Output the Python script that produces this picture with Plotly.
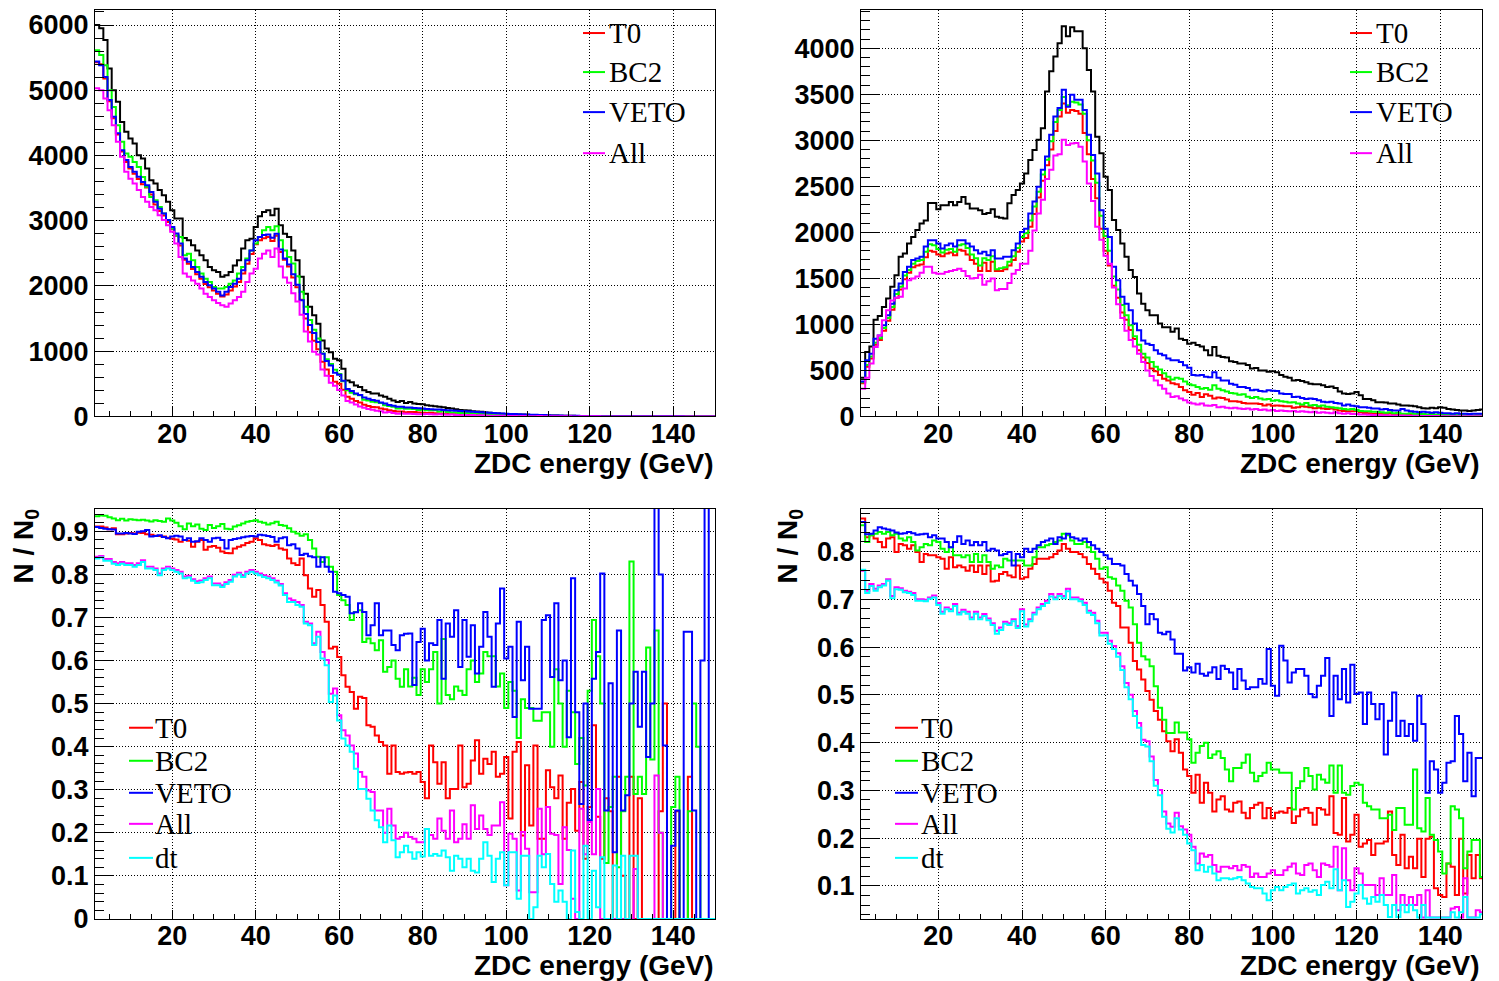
import numpy as np
import plotly.graph_objects as go

# ZDC energy histograms, 1 GeV bins, the axis starts at 1.5 GeV
BIN_EDGES = np.arange(1.5, 151.0, 1.0)  # 150 edges -> 149 bins

# ---------------- top left: counts ----------------
TL_NOCUT = [6000, 5950, 5770, 5335, 5000, 4825, 4515, 4365, 4260, 4185,
            4005, 3955, 3800, 3620, 3570, 3470, 3390, 3290, 3160, 3035,
            3035, 2735, 2700, 2625, 2545, 2470, 2395, 2290, 2240, 2215,
            2140, 2165, 2215, 2315, 2395, 2575, 2700, 2725, 2905, 3070,
            3135, 3160, 3085, 3185, 2930, 2800, 2750, 2545, 2395, 2140,
            1880, 1680, 1550, 1420, 1165, 1040, 985, 885, 860, 730,
            550, 525, 475, 450, 400, 375, 350, 350, 320, 300,
            270, 245, 220, 235, 205, 220, 200, 190, 185, 170,
            165, 155, 150, 140, 130, 120, 110, 100, 95, 90,
            80, 75, 70, 60, 55, 50, 45, 40, 38, 35,
            32, 30, 28, 25, 22, 20, 18, 17, 15, 14,
            13, 12, 11, 10, 9, 8, 8, 7, 6, 6,
            5, 5, 4, 4, 3, 3, 3, 2, 2, 2,
            2, 1, 1, 1, 1, 1, 1, 1, 1, 1,
            1, 0, 0, 0, 0, 0, 0, 0, 0]
TL_T0 = [5430, 5400, 5180, 4830, 4570, 4320, 4060, 3900, 3800, 3720,
         3640, 3560, 3510, 3400, 3250, 3150, 3080, 2980, 2870, 2770,
         2620, 2400, 2340, 2260, 2180, 2110, 2030, 1980, 1930, 1880,
         1840, 1870, 1930, 1990, 2060, 2190, 2340, 2490, 2640, 2700,
         2730, 2750, 2690, 2770, 2520, 2400, 2300, 2130, 1980, 1790,
         1500, 1290, 1160, 1030, 840, 720, 620, 530, 500, 410,
         300, 270, 235, 215, 180, 160, 145, 140, 120, 110,
         95, 85, 75, 75, 65, 68, 66, 62, 58, 52,
         55, 50, 45, 42, 38, 37, 34, 32, 33, 28,
         28, 30, 27, 24, 24, 22, 21, 20, 19, 18,
         16, 15, 12, 14, 11, 12, 9, 8, 10, 8,
         7, 6, 6, 5, 4, 4, 4, 3, 3, 3,
         2, 2, 2, 2, 1, 1, 1, 1, 1, 1,
         1, 1, 0, 0, 0, 0, 0, 0, 0, 0,
         0, 0, 0, 0, 0, 0, 0, 0, 0]
TL_BC2 = [5615, 5540, 5385, 5000, 4745, 4465, 4210, 4030, 3980, 3900,
          3825, 3670, 3520, 3365, 3315, 3210, 3110, 3010, 2880, 2775,
          2750, 2470, 2495, 2395, 2290, 2190, 2110, 2060, 1985, 1960,
          1960, 1985, 2035, 2085, 2190, 2290, 2420, 2545, 2650, 2750,
          2855, 2905, 2855, 2915, 2700, 2545, 2445, 2345, 2150, 1910,
          1680, 1480, 1330, 1195, 965, 875, 805, 715, 650, 540,
          400, 364, 339, 323, 257, 244, 224, 218, 207, 172,
          158, 147, 123, 127, 119, 119, 112, 99, 107, 94,
          96, 96, 75, 91, 68, 61, 59, 53, 49, 52,
          48, 41, 40, 37, 34, 31, 24, 23, 19, 19,
          17, 13, 14, 12, 11, 9, 8, 8, 7, 6,
          8, 6, 4, 5, 4, 3, 3, 2, 3, 4,
          3, 2, 1, 1, 1, 0, 1, 1, 2, 1,
          1, 0, 1, 0, 1, 0, 0, 0, 0, 0,
          0, 0, 0, 0, 0, 0, 0, 0, 0]
TL_VETO = [5440, 5385, 5205, 4850, 4595, 4340, 4080, 3930, 3825, 3750,
           3675, 3595, 3545, 3440, 3290, 3185, 3110, 3010, 2905, 2805,
           2650, 2420, 2370, 2290, 2215, 2140, 2060, 2010, 1960, 1910,
           1855, 1910, 1985, 2035, 2110, 2240, 2395, 2545, 2700, 2750,
           2780, 2790, 2740, 2800, 2560, 2420, 2330, 2180, 2020, 1780,
           1570, 1400, 1280, 1140, 960, 850, 780, 670, 640, 545,
           420, 390, 350, 330, 290, 270, 250, 240, 215, 200,
           175, 165, 150, 150, 135, 135, 130, 125, 120, 115,
           110, 108, 105, 100, 95, 92, 88, 84, 80, 76,
           72, 68, 64, 60, 56, 52, 48, 45, 42, 39,
           36, 33, 30, 28, 26, 24, 22, 20, 18, 16,
           15, 13, 12, 11, 10, 9, 8, 7, 6, 6,
           5, 4, 4, 3, 3, 2, 2, 2, 2, 1,
           1, 1, 1, 1, 1, 1, 1, 1, 1, 1,
           1, 0, 0, 0, 0, 0, 0, 0, 0]
TL_ALL = [5030, 5000, 4875, 4695, 4465, 4210, 3980, 3750, 3645, 3570,
          3470, 3365, 3290, 3210, 3160, 3085, 3010, 2930, 2830, 2650,
          2445, 2190, 2140, 2085, 2035, 1960, 1880, 1830, 1780, 1740,
          1705, 1680, 1730, 1780, 1830, 1910, 2060, 2190, 2265, 2420,
          2495, 2545, 2445, 2575, 2300, 2130, 2050, 1890, 1760, 1560,
          1300, 1150, 990, 950, 720, 625, 515, 470, 405, 320,
          235, 212, 182, 153, 132, 112, 103, 88, 81, 60,
          69, 53, 41, 45, 41, 42, 37, 34, 33, 36,
          32, 29, 35, 29, 24, 30, 20, 19, 21, 17,
          21, 16, 17, 13, 11, 11, 10, 11, 3, 7,
          6, 2, 6, 4, 2, 1, 5, 3, 4, 3,
          3, 1, 2, 2, 0, 0, 2, 1, 1, 1,
          2, 0, 0, 0, 0, 0, 0, 0, 0, 0,
          0, 0, 0, 0, 0, 0, 0, 0, 0, 0,
          0, 0, 0, 0, 0, 0, 0, 0, 0]

# ---------------- top right: counts ----------------
TR_NOCUT = [420, 700, 760, 1050, 1090, 1190, 1280, 1410, 1535, 1735,
            1770, 1880, 1950, 2025, 2095, 2130, 2320, 2320, 2250, 2295,
            2295, 2330, 2295, 2330, 2385, 2310, 2260, 2260, 2240, 2200,
            2210, 2250, 2170, 2160, 2150, 2315, 2405, 2460, 2530, 2640,
            2785, 2895, 3005, 3130, 3530, 3750, 3910, 4055, 4240, 4130,
            4230, 4185, 4185, 4000, 3765, 3530, 3040, 2860, 2605, 2460,
            2135, 2025, 1880, 1735, 1590, 1515, 1335, 1225, 1155, 1100,
            1100, 1010, 970, 970, 920, 955, 845, 830, 790, 800,
            775, 760, 720, 665, 755, 660, 645, 640, 600, 590,
            575, 575, 560, 520, 525, 500, 500, 485, 490, 480,
            450, 430, 420, 390, 395, 385, 370, 355, 350, 350,
            340, 320, 325, 310, 270, 250, 245, 250, 265, 230,
            190, 190, 175, 155, 155, 150, 140, 140, 130, 120,
            120, 115, 110, 100, 90, 85, 95, 90, 100, 95,
            80, 75, 70, 65, 65, 60, 65, 70, 75]
TR_T0 = [360, 540, 630, 780, 830, 930, 1040, 1160, 1290, 1380,
         1490, 1560, 1620, 1640, 1650, 1730, 1800, 1790, 1760, 1740,
         1770, 1780, 1750, 1810, 1800, 1760, 1700, 1660, 1580, 1670,
         1580, 1680, 1580, 1580, 1600, 1640, 1700, 1790, 1900, 1940,
         2060, 2200, 2380, 2560, 2730, 2900, 3100, 3260, 3400, 3300,
         3330, 3320, 3290, 3080, 2850, 2580, 2370, 2040, 1800, 1640,
         1420, 1290, 1130, 1050, 940, 840, 720, 640, 580, 520,
         490, 450, 410, 390, 360, 350, 320, 285, 265, 235,
         255, 210, 240, 225, 195, 205, 200, 185, 165, 165,
         160, 145, 140, 140, 140, 135, 120, 130, 115, 120,
         115, 110, 110, 95, 100, 110, 105, 100, 90, 95,
         85, 80, 85, 75, 65, 60, 55, 55, 60, 45,
         36, 35, 30, 30, 28, 27, 33, 22, 18, 24,
         16, 18, 14, 18, 11, 16, 17, 8, 7, 7,
         12, 11, 6, 13, 6, 10, 8, 12, 9]
TR_BC2 = [370, 560, 650, 800, 850, 960, 1070, 1190, 1330, 1410,
          1530, 1590, 1660, 1690, 1700, 1790, 1870, 1860, 1820, 1780,
          1810, 1820, 1790, 1860, 1870, 1830, 1760, 1720, 1640, 1720,
          1700, 1740, 1600, 1610, 1620, 1680, 1740, 1830, 1950, 1990,
          2130, 2280, 2440, 2630, 2790, 2990, 3200, 3330, 3470, 3380,
          3420, 3410, 3390, 3290, 3000, 2780, 2540, 2180, 1960, 1800,
          1520, 1380, 1210, 1100, 990, 870, 780, 680, 640, 590,
          540, 510, 470, 430, 400, 420, 410, 380, 350, 340,
          320, 300, 310, 290, 340, 300, 285, 270, 255, 250,
          235, 240, 215, 200, 210, 195, 185, 190, 170, 175,
          165, 160, 150, 155, 140, 130, 145, 120, 125, 110,
          120, 105, 100, 95, 90, 80, 75, 80, 70, 60,
          55, 55, 50, 50, 45, 40, 45, 35, 40, 30,
          30, 35, 25, 30, 25, 20, 25, 20, 15, 20,
          15, 15, 15, 10, 15, 10, 10, 10, 10]
TR_VETO = [380, 610, 680, 845, 880, 990, 1100, 1225, 1370, 1445,
           1570, 1625, 1700, 1715, 1735, 1845, 1915, 1915, 1880, 1825,
           1860, 1880, 1845, 1915, 1915, 1880, 1845, 1805, 1770, 1790,
           1750, 1805, 1715, 1715, 1735, 1735, 1805, 1880, 2005, 2040,
           2205, 2335, 2495, 2680, 2825, 3060, 3260, 3350, 3550, 3365,
           3495, 3440, 3440, 3330, 3060, 2840, 2640, 2240, 2040, 1950,
           1625, 1480, 1300, 1225, 1155, 1010, 935, 825, 790, 775,
           720, 680, 665, 630, 610, 610, 590, 555, 530, 450,
           445, 450, 430, 425, 480, 420, 390, 390, 355, 345,
           320, 320, 310, 285, 290, 275, 270, 285, 280, 275,
           250, 245, 245, 210, 215, 200, 190, 195, 190, 175,
           160, 155, 160, 145, 140, 120, 130, 115, 110, 100,
           100, 95, 85, 85, 75, 80, 70, 65, 65, 80,
           65, 55, 50, 45, 50, 45, 40, 45, 40, 35,
           35, 30, 35, 30, 30, 25, 30, 30, 30]
TR_ALL = [300, 420, 575, 755, 880, 1045, 1155, 1260, 1290, 1300,
          1390, 1480, 1500, 1520, 1560, 1625, 1625, 1560, 1550, 1550,
          1570, 1580, 1590, 1605, 1580, 1525, 1500, 1505, 1540, 1430,
          1470, 1500, 1370, 1385, 1385, 1450, 1550, 1590, 1660, 1660,
          1800, 2020, 2205, 2355, 2580, 2680, 2835, 2850, 3005, 2950,
          2965, 2970, 2930, 2770, 2530, 2340, 2060, 1920, 1745, 1660,
          1400, 1220, 1070, 930, 830, 760, 680, 590, 500, 440,
          390, 340, 300, 250, 210, 220, 195, 175, 150, 140,
          130, 140, 120, 115, 125, 100, 105, 95, 90, 95,
          85, 80, 85, 75, 80, 70, 75, 65, 70, 60,
          65, 60, 55, 60, 50, 55, 50, 45, 50, 40,
          45, 40, 35, 45, 35, 30, 35, 25, 25, 20,
          20, 18, 15, 15, 12, 12, 10, 10, 8, 10,
          8, 6, 6, 5, 5, 4, 4, 4, 3, 3,
          3, 2, 2, 2, 2, 2, 1, 1, 1]

# ---------------- bottom left: N / N0 ----------------
BL_T0 = [0.911, 0.911, 0.909, 0.905, 0.907, 0.893, 0.893, 0.895, 0.896, 0.895,
         0.897, 0.896, 0.893, 0.892, 0.890, 0.889, 0.888, 0.885, 0.883, 0.881,
         0.876, 0.880, 0.878, 0.864, 0.876, 0.880, 0.857, 0.864, 0.866, 0.862,
         0.853, 0.850, 0.849, 0.860, 0.864, 0.868, 0.873, 0.876, 0.884, 0.880,
         0.870, 0.868, 0.866, 0.869, 0.860, 0.857, 0.837, 0.826, 0.822, 0.837,
         0.798, 0.767, 0.748, 0.764, 0.729, 0.690, 0.628, 0.632, 0.608, 0.566,
         0.539, 0.527, 0.488, 0.516, 0.513, 0.450, 0.446, 0.426, 0.411, 0.403,
         0.337, 0.403, 0.341, 0.337, 0.340, 0.341, 0.337, 0.341, 0.318, 0.280,
         0.403, 0.364, 0.314, 0.364, 0.280, 0.302, 0.302, 0.403, 0.306, 0.314,
         0.368, 0.415, 0.337, 0.372, 0.360, 0.388, 0.330, 0.337, 0.376, 0.233,
         0.388, 0.411, 0.194, 0.357, 0.217, 0.403, 0.186, 0.186, 0.345, 0.306,
         0.280, 0.333, 0.186, 0.270, 0.302, 0.205, 0.318, 0.140, 0.260, 0.450,
         0.237, 0.140, 0.280, 0.250, 0.0, 0.330, 0.100, 0.0, 0.330, 0.0,
         0.280, 0.0, 0.0, 0.0, 0.0, 0.250, 0.500, 0.0, 0.0, 0.250,
         0.0, 0.0, 0.330, 0.0, 0.0, 0.0, 0.0, 0.0, 0.0]
BL_BC2 = [0.935, 0.937, 0.936, 0.933, 0.930, 0.926, 0.929, 0.925, 0.928, 0.927,
          0.926, 0.927, 0.925, 0.923, 0.926, 0.924, 0.922, 0.930, 0.925, 0.920,
          0.912, 0.905, 0.918, 0.912, 0.916, 0.906, 0.903, 0.915, 0.908, 0.912,
          0.917, 0.906, 0.905, 0.911, 0.914, 0.918, 0.922, 0.924, 0.926, 0.922,
          0.920, 0.916, 0.919, 0.922, 0.915, 0.913, 0.907, 0.899, 0.895, 0.890,
          0.893, 0.880, 0.860, 0.841, 0.829, 0.840, 0.818, 0.806, 0.752, 0.740,
          0.729, 0.694, 0.713, 0.717, 0.643, 0.651, 0.640, 0.624, 0.647, 0.574,
          0.585, 0.600, 0.558, 0.539, 0.580, 0.540, 0.560, 0.520, 0.580, 0.550,
          0.580, 0.620, 0.500, 0.650, 0.520, 0.510, 0.540, 0.530, 0.520, 0.580,
          0.600, 0.550, 0.570, 0.620, 0.610, 0.610, 0.540, 0.570, 0.490, 0.550,
          0.530, 0.420, 0.510, 0.490, 0.490, 0.460, 0.460, 0.480, 0.480, 0.400,
          0.580, 0.500, 0.400, 0.530, 0.480, 0.360, 0.420, 0.310, 0.530, 0.694,
          0.610, 0.500, 0.130, 0.260, 0.330, 0.120, 0.250, 0.330, 0.830, 0.290,
          0.330, 0.290, 0.630, 0.370, 0.670, 0.200, 0.0, 0.0, 0.260, 0.330,
          0.0, 0.0, 0.250, 0.500, 0.400, 0.0, 0.0, 0.0, 0.0]
BL_VETO = [0.910, 0.908, 0.906, 0.905, 0.904, 0.895, 0.895, 0.896, 0.895, 0.894,
           0.899, 0.900, 0.903, 0.888, 0.889, 0.891, 0.887, 0.884, 0.888, 0.890,
           0.888, 0.880, 0.884, 0.876, 0.877, 0.884, 0.880, 0.876, 0.884, 0.885,
           0.880, 0.860, 0.880, 0.882, 0.884, 0.886, 0.888, 0.889, 0.888, 0.892,
           0.891, 0.889, 0.887, 0.876, 0.884, 0.886, 0.868, 0.870, 0.860, 0.845,
           0.848, 0.842, 0.840, 0.818, 0.840, 0.818, 0.806, 0.760, 0.756, 0.752,
           0.748, 0.710, 0.712, 0.733, 0.713, 0.659, 0.682, 0.733, 0.659, 0.670,
           0.670, 0.636, 0.624, 0.659, 0.662, 0.663, 0.543, 0.643, 0.674, 0.600,
           0.640, 0.636, 0.694, 0.558, 0.686, 0.655, 0.717, 0.585, 0.694, 0.609,
           0.682, 0.570, 0.632, 0.713, 0.655, 0.539, 0.686, 0.767, 0.605, 0.632,
           0.469, 0.690, 0.554, 0.632, 0.488, 0.488, 0.488, 0.694, 0.705, 0.562,
           0.733, 0.554, 0.600, 0.422, 0.791, 0.480, 0.267, 0.500, 0.229, 0.558,
           0.620, 0.802, 0.252, 0.547, 0.155, 0.670, 0.252, 0.287, 0.500, 0.574,
           0.446, 0.574, 0.376, 0.500, 1.200, 0.800, 0.403, 0.0, 0.170, 0.252,
           0.0, 0.667, 0.667, 0.252, 0.0, 0.600, 1.200, 0.0, 0.0]
BL_ALL = [0.841, 0.843, 0.836, 0.836, 0.829, 0.826, 0.829, 0.826, 0.826, 0.822,
          0.826, 0.833, 0.818, 0.818, 0.814, 0.802, 0.814, 0.818, 0.814, 0.810,
          0.806, 0.795, 0.797, 0.789, 0.784, 0.786, 0.791, 0.795, 0.779, 0.779,
          0.775, 0.782, 0.787, 0.799, 0.804, 0.798, 0.806, 0.810, 0.806, 0.802,
          0.798, 0.795, 0.791, 0.785, 0.778, 0.756, 0.744, 0.740, 0.736, 0.729,
          0.690, 0.686, 0.640, 0.667, 0.620, 0.601, 0.523, 0.535, 0.473, 0.438,
          0.426, 0.403, 0.384, 0.341, 0.330, 0.298, 0.295, 0.252, 0.252, 0.200,
          0.256, 0.217, 0.186, 0.190, 0.200, 0.190, 0.186, 0.178, 0.178, 0.209,
          0.195, 0.186, 0.233, 0.205, 0.186, 0.252, 0.178, 0.186, 0.220, 0.186,
          0.264, 0.209, 0.240, 0.209, 0.195, 0.217, 0.217, 0.271, 0.078, 0.198,
          0.186, 0.066, 0.202, 0.163, 0.062, 0.062, 0.256, 0.150, 0.260, 0.198,
          0.195, 0.081, 0.213, 0.160, 0.047, 0.0, 0.256, 0.150, 0.225, 0.150,
          0.302, 0.0, 0.0, 0.0, 0.0, 0.0, 0.0, 0.0, 0.0, 0.116,
          0.0, 0.0, 0.0, 0.0, 0.333, 0.200, 0.0, 0.0, 0.0, 0.0,
          0.0, 0.0, 0.0, 0.0, 0.0, 0.0, 0.0, 0.0, 0.0]
BL_DT = [0.837, 0.839, 0.832, 0.832, 0.825, 0.822, 0.825, 0.822, 0.822, 0.818,
         0.822, 0.829, 0.814, 0.814, 0.810, 0.798, 0.810, 0.814, 0.810, 0.806,
         0.802, 0.791, 0.793, 0.785, 0.780, 0.782, 0.787, 0.791, 0.775, 0.775,
         0.771, 0.778, 0.783, 0.795, 0.800, 0.794, 0.802, 0.806, 0.802, 0.798,
         0.794, 0.791, 0.787, 0.781, 0.774, 0.752, 0.736, 0.736, 0.729, 0.725,
         0.686, 0.682, 0.636, 0.655, 0.605, 0.589, 0.504, 0.519, 0.461, 0.419,
         0.403, 0.388, 0.349, 0.302, 0.302, 0.279, 0.252, 0.229, 0.213, 0.178,
         0.217, 0.183, 0.143, 0.155, 0.170, 0.155, 0.140, 0.155, 0.145, 0.209,
         0.147, 0.151, 0.147, 0.159, 0.143, 0.112, 0.147, 0.140, 0.120, 0.140,
         0.112, 0.108, 0.140, 0.178, 0.147, 0.086, 0.140, 0.155, 0.078, 0.155,
         0.155, 0.047, 0.147, 0.147, 0.0, 0.027, 0.147, 0.120, 0.151, 0.081,
         0.040, 0.066, 0.040, 0.0, 0.159, 0.016, 0.0, 0.170, 0.0, 0.112,
         0.027, 0.143, 0.0, 0.0, 0.124, 0.0, 0.147, 0.0, 0.147, 0.147,
         0.0, 0.0, 0.0, 0.0, 0.0, 0.0, 0.0, 0.0, 0.0, 0.0,
         0.0, 0.0, 0.0, 0.0, 0.0, 0.0, 0.0, 0.0, 0.0]

# ---------------- bottom right: N / N0 ----------------
BR_T0 = [0.869, 0.830, 0.834, 0.827, 0.820, 0.809, 0.827, 0.830, 0.799, 0.816,
         0.813, 0.806, 0.813, 0.799, 0.778, 0.795, 0.792, 0.792, 0.788, 0.785,
         0.764, 0.788, 0.767, 0.771, 0.767, 0.760, 0.771, 0.757, 0.771, 0.753,
         0.771, 0.737, 0.739, 0.753, 0.757, 0.750, 0.746, 0.771, 0.743, 0.746,
         0.764, 0.774, 0.785, 0.785, 0.785, 0.788, 0.795, 0.802, 0.816, 0.806,
         0.799, 0.799, 0.795, 0.788, 0.774, 0.764, 0.753, 0.743, 0.735, 0.718,
         0.693, 0.686, 0.641, 0.641, 0.609, 0.571, 0.553, 0.532, 0.508, 0.490,
         0.466, 0.448, 0.424, 0.403, 0.382, 0.407, 0.379, 0.344, 0.330, 0.295,
         0.333, 0.274, 0.316, 0.295, 0.256, 0.281, 0.288, 0.260, 0.256, 0.274,
         0.277, 0.253, 0.242, 0.263, 0.270, 0.274, 0.242, 0.263, 0.242, 0.253,
         0.256, 0.253, 0.263, 0.232, 0.246, 0.260, 0.263, 0.253, 0.228, 0.263,
         0.260, 0.249, 0.288, 0.211, 0.207, 0.284, 0.193, 0.207, 0.249, 0.182,
         0.189, 0.196, 0.165, 0.189, 0.189, 0.193, 0.256, 0.165, 0.144, 0.207,
         0.137, 0.161, 0.137, 0.199, 0.119, 0.199, 0.203, 0.095, 0.081, 0.077,
         0.147, 0.140, 0.081, 0.199, 0.084, 0.165, 0.116, 0.165, 0.116]
BR_BC2 = [0.855, 0.820, 0.834, 0.837, 0.841, 0.837, 0.841, 0.834, 0.837, 0.827,
          0.823, 0.830, 0.820, 0.802, 0.809, 0.816, 0.813, 0.823, 0.820, 0.806,
          0.799, 0.809, 0.792, 0.792, 0.788, 0.792, 0.778, 0.795, 0.778, 0.792,
          0.778, 0.764, 0.771, 0.767, 0.785, 0.781, 0.781, 0.781, 0.781, 0.771,
          0.771, 0.788, 0.809, 0.809, 0.813, 0.816, 0.820, 0.823, 0.837, 0.834,
          0.823, 0.816, 0.816, 0.820, 0.809, 0.799, 0.785, 0.764, 0.767, 0.746,
          0.743, 0.729, 0.718, 0.697, 0.683, 0.648, 0.609, 0.581, 0.574, 0.560,
          0.518, 0.473, 0.448, 0.420, 0.420, 0.442, 0.421, 0.421, 0.407, 0.358,
          0.379, 0.393, 0.400, 0.368, 0.375, 0.382, 0.368, 0.344, 0.319, 0.347,
          0.347, 0.358, 0.375, 0.337, 0.319, 0.330, 0.337, 0.358, 0.344, 0.344,
          0.337, 0.337, 0.337, 0.260, 0.305, 0.319, 0.347, 0.330, 0.302, 0.333,
          0.323, 0.316, 0.352, 0.295, 0.352, 0.295, 0.291, 0.309, 0.316, 0.312,
          0.274, 0.267, 0.260, 0.260, 0.242, 0.242, 0.249, 0.217, 0.263, 0.263,
          0.228, 0.228, 0.344, 0.221, 0.214, 0.284, 0.207, 0.196, 0.172, 0.126,
          0.147, 0.267, 0.260, 0.242, 0.137, 0.172, 0.196, 0.196, 0.119]
BR_VETO = [0.862, 0.836, 0.837, 0.844, 0.851, 0.848, 0.846, 0.844, 0.840, 0.837,
           0.838, 0.841, 0.838, 0.835, 0.836, 0.837, 0.830, 0.834, 0.827, 0.827,
           0.820, 0.809, 0.820, 0.832, 0.816, 0.823, 0.813, 0.820, 0.813, 0.820,
           0.802, 0.806, 0.802, 0.792, 0.795, 0.799, 0.771, 0.795, 0.788, 0.806,
           0.799, 0.806, 0.813, 0.820, 0.823, 0.827, 0.816, 0.830, 0.827, 0.837,
           0.830, 0.827, 0.823, 0.827, 0.820, 0.813, 0.806, 0.799, 0.792, 0.785,
           0.774, 0.774, 0.771, 0.753, 0.739, 0.729, 0.711, 0.686, 0.648, 0.669,
           0.658, 0.630, 0.627, 0.632, 0.616, 0.586, 0.586, 0.551, 0.558, 0.547,
           0.565, 0.544, 0.540, 0.547, 0.558, 0.533, 0.561, 0.554, 0.547, 0.512,
           0.554, 0.530, 0.512, 0.516, 0.516, 0.533, 0.523, 0.596, 0.519, 0.498,
           0.603, 0.572, 0.526, 0.547, 0.554, 0.554, 0.540, 0.502, 0.495, 0.519,
           0.540, 0.577, 0.456, 0.540, 0.491, 0.554, 0.484, 0.563, 0.502, 0.505,
           0.439, 0.505, 0.481, 0.449, 0.481, 0.375, 0.446, 0.505, 0.414, 0.446,
           0.414, 0.439, 0.404, 0.498, 0.439, 0.295, 0.361, 0.344, 0.295, 0.316,
           0.358, 0.361, 0.456, 0.418, 0.319, 0.379, 0.288, 0.368, 0.368]
BR_ALL = [0.760, 0.718, 0.732, 0.722, 0.729, 0.732, 0.742, 0.707, 0.725, 0.723,
          0.718, 0.716, 0.713, 0.700, 0.700, 0.699, 0.704, 0.708, 0.692, 0.674,
          0.683, 0.679, 0.690, 0.672, 0.678, 0.674, 0.662, 0.674, 0.662, 0.669,
          0.660, 0.650, 0.634, 0.641, 0.653, 0.650, 0.658, 0.644, 0.679, 0.647,
          0.658, 0.672, 0.683, 0.690, 0.697, 0.711, 0.704, 0.711, 0.707, 0.722,
          0.704, 0.704, 0.700, 0.693, 0.676, 0.672, 0.655, 0.630, 0.630, 0.613,
          0.602, 0.587, 0.560, 0.525, 0.500, 0.466, 0.441, 0.406, 0.403, 0.371,
          0.322, 0.301, 0.256, 0.231, 0.224, 0.253, 0.225, 0.218, 0.207, 0.182,
          0.147, 0.168, 0.161, 0.165, 0.144, 0.130, 0.140, 0.140, 0.137, 0.142,
          0.133, 0.144, 0.140, 0.119, 0.126, 0.119, 0.119, 0.126, 0.133, 0.123,
          0.123, 0.133, 0.140, 0.147, 0.126, 0.123, 0.144, 0.147, 0.133, 0.119,
          0.147, 0.144, 0.140, 0.182, 0.091, 0.179, 0.112, 0.091, 0.137, 0.126,
          0.102, 0.102, 0.102, 0.081, 0.116, 0.081, 0.081, 0.123, 0.049, 0.081,
          0.060, 0.077, 0.060, 0.081, 0.034, 0.091, 0.034, 0.034, 0.034, 0.034,
          0.034, 0.053, 0.056, 0.034, 0.116, 0.034, 0.034, 0.049, 0.045]
BR_DT = [0.762, 0.713, 0.728, 0.718, 0.725, 0.729, 0.739, 0.702, 0.721, 0.720,
         0.715, 0.713, 0.709, 0.697, 0.697, 0.696, 0.701, 0.704, 0.688, 0.670,
         0.679, 0.675, 0.686, 0.668, 0.674, 0.670, 0.658, 0.670, 0.658, 0.665,
         0.656, 0.646, 0.628, 0.636, 0.649, 0.646, 0.654, 0.640, 0.675, 0.643,
         0.654, 0.668, 0.679, 0.686, 0.692, 0.706, 0.700, 0.707, 0.702, 0.717,
         0.700, 0.700, 0.696, 0.688, 0.672, 0.667, 0.650, 0.624, 0.625, 0.607,
         0.596, 0.580, 0.552, 0.516, 0.491, 0.456, 0.431, 0.395, 0.392, 0.361,
         0.310, 0.290, 0.245, 0.220, 0.212, 0.242, 0.218, 0.207, 0.189, 0.175,
         0.133, 0.144, 0.130, 0.140, 0.126, 0.112, 0.116, 0.116, 0.114, 0.116,
         0.119, 0.112, 0.105, 0.098, 0.095, 0.095, 0.084, 0.070, 0.091, 0.098,
         0.091, 0.098, 0.102, 0.105, 0.084, 0.091, 0.095, 0.088, 0.091, 0.081,
         0.102, 0.109, 0.095, 0.135, 0.091, 0.112, 0.056, 0.067, 0.084, 0.102,
         0.074, 0.063, 0.077, 0.067, 0.081, 0.060, 0.035, 0.060, 0.035, 0.060,
         0.045, 0.060, 0.049, 0.034, 0.060, 0.034, 0.034, 0.034, 0.034, 0.034,
         0.034, 0.045, 0.034, 0.045, 0.077, 0.034, 0.034, 0.034, 0.041]

LEGEND_TOP = ["T0", "BC2", "VETO", "All"]
LEGEND_BOTTOM = ["T0", "BC2", "VETO", "All", "dt"]
COLORS = {"T0": "#ff0000", "BC2": "#00ff00", "VETO": "#0000ff",
          "All": "#ff00ff", "dt": "#00ffff", "none": "#000000"}

# target picture is 1499x981. The page gets captured 997px tall and squeezed
# to 981, so the figure is made 997 tall and placed flush at the top-left.
PIC_W, PIC_H = 1499, 981
W, H = 1499, 997


def px_x(x):
    return x / W


def px_y(y):
    return 1 - y / PIC_H


def hist_trace(values, color, axis_id):
    y = list(values) + [values[-1]]
    return go.Scatter(x=BIN_EDGES, y=y, mode="lines",
                      line=dict(color=color, width=2, shape="hv"),
                      xaxis="x" + axis_id, yaxis="y" + axis_id,
                      showlegend=False, hoverinfo="skip")


for name, arr in [("TL_NOCUT", TL_NOCUT), ("TL_T0", TL_T0), ("TL_BC2", TL_BC2),
                  ("TL_VETO", TL_VETO), ("TL_ALL", TL_ALL), ("TR_NOCUT", TR_NOCUT),
                  ("TR_T0", TR_T0), ("TR_BC2", TR_BC2), ("TR_VETO", TR_VETO),
                  ("TR_ALL", TR_ALL), ("BL_T0", BL_T0), ("BL_BC2", BL_BC2),
                  ("BL_VETO", BL_VETO), ("BL_ALL", BL_ALL), ("BL_DT", BL_DT),
                  ("BR_T0", BR_T0), ("BR_BC2", BR_BC2), ("BR_VETO", BR_VETO),
                  ("BR_ALL", BR_ALL), ("BR_DT", BR_DT)]:
    assert len(arr) == len(BIN_EDGES) - 1, (name, len(arr))

fig = go.Figure()

# top left = axis "", top right = "2", bottom left = "3", bottom right = "4"
for vals, key in [(TL_NOCUT, "none"), (TL_T0, "T0"), (TL_BC2, "BC2"),
                  (TL_VETO, "VETO"), (TL_ALL, "All")]:
    fig.add_trace(hist_trace(vals, COLORS[key], ""))
for vals, key in [(TR_NOCUT, "none"), (TR_T0, "T0"), (TR_BC2, "BC2"),
                  (TR_VETO, "VETO"), (TR_ALL, "All")]:
    fig.add_trace(hist_trace(vals, COLORS[key], "2"))
for vals, key in [(BL_T0, "T0"), (BL_BC2, "BC2"), (BL_VETO, "VETO"),
                  (BL_ALL, "All"), (BL_DT, "dt")]:
    fig.add_trace(hist_trace(vals, COLORS[key], "3"))
for vals, key in [(BR_T0, "T0"), (BR_BC2, "BC2"), (BR_VETO, "VETO"),
                  (BR_ALL, "All"), (BR_DT, "dt")]:
    fig.add_trace(hist_trace(vals, COLORS[key], "4"))

tick_font = dict(family="Liberation Sans", size=27, color="black", weight="bold")


def x_axis(left, right, anchor):
    return dict(domain=[px_x(left), px_x(right)], anchor=anchor,
                range=[1.5, 150], tickvals=[20, 40, 60, 80, 100, 120, 140],
                showline=True, linecolor="black", linewidth=1, mirror=True,
                ticks="inside", ticklen=9, tickwidth=1, tickcolor="black",
                showgrid=True, gridcolor="black", gridwidth=1, griddash="1px,2px",
                zeroline=False, tickfont=tick_font, ticklabelstandoff=-7,
                minor=dict(ticks="inside", ticklen=5, tickcolor="black",
                           tick0=0, dtick=5, showgrid=False))


def y_axis(bottom, top, anchor, rng, major, minor):
    return dict(domain=[px_y(bottom), px_y(top)], anchor=anchor,
                range=rng, dtick=major, tick0=0,
                showline=True, linecolor="black", linewidth=1, mirror=True,
                ticks="inside", ticklen=18, tickwidth=1, tickcolor="black",
                showgrid=True, gridcolor="black", gridwidth=1, griddash="1px,2px",
                zeroline=False, tickfont=tick_font, ticklabelstandoff=0,
                exponentformat="none", separatethousands=False,
                minor=dict(ticks="inside", ticklen=9, tickcolor="black",
                           tick0=0, dtick=minor, showgrid=False))


fig.update_layout(
    width=W, height=H,
    margin=dict(l=0, r=0, t=0, b=0),
    paper_bgcolor="white", plot_bgcolor="white",
    showlegend=False,
    xaxis=x_axis(95, 715, "y"),
    yaxis=y_axis(416, 10, "x", [0, 6230], 1000, 200),
    xaxis2=x_axis(861, 1482, "y2"),
    yaxis2=y_axis(416, 10, "x2", [0, 4416], 500, 100),
    xaxis3=x_axis(95, 715, "y3"),
    yaxis3=y_axis(918, 508, "x3", [0, 0.953], 0.1, 0.02),
    xaxis4=x_axis(861, 1482, "y4"),
    yaxis4=y_axis(918, 508, "x4", [0.031, 0.89], 0.1, 0.02),
)

title_font = dict(family="Liberation Sans", size=28, color="black", weight="bold")
legend_font = dict(family="Liberation Serif", size=29, color="black")

annotations = []
shapes = []

# x titles, right aligned at the end of each axis
for right, yc in [(716, 463), (1482, 463), (716, 965), (1482, 965)]:
    annotations.append(dict(text="ZDC energy (GeV)", x=px_x(right), y=px_y(yc),
                            xref="paper", yref="paper", xanchor="right",
                            yanchor="middle", showarrow=False, font=title_font))

# y titles of the ratio panels
for xc in [26, 790]:
    annotations.append(dict(text="N / N<sub>0</sub>", x=px_x(xc), y=px_y(546),
                            xref="paper", yref="paper", xanchor="center",
                            yanchor="middle", textangle=-90, showarrow=False,
                            font=title_font))


def add_legend(line_x0, line_x1, text_x, rows, labels):
    for lab, yc in zip(labels, rows):
        shapes.append(dict(type="line", xref="paper", yref="paper",
                           x0=px_x(line_x0), x1=px_x(line_x1),
                           y0=px_y(yc), y1=px_y(yc),
                           line=dict(color=COLORS[lab], width=2)))
        annotations.append(dict(text=lab, x=px_x(text_x), y=px_y(yc),
                                xref="paper", yref="paper", xanchor="left",
                                yanchor="middle", showarrow=False, font=legend_font))


add_legend(583, 605, 607, [33, 72, 112, 153], LEGEND_TOP)
add_legend(1350, 1372, 1374, [33, 72, 112, 153], LEGEND_TOP)
add_legend(129, 153, 153, [727, 760, 792, 823, 857], LEGEND_BOTTOM)
add_legend(895, 918, 919, [727, 760, 792, 823, 857], LEGEND_BOTTOM)

fig.update_layout(annotations=annotations, shapes=shapes)

# no body margin, so the figure starts at the page corner
fig.write_html("out.html", config={"displayModeBar": False},
               post_script="document.body.style.margin='0px';")
